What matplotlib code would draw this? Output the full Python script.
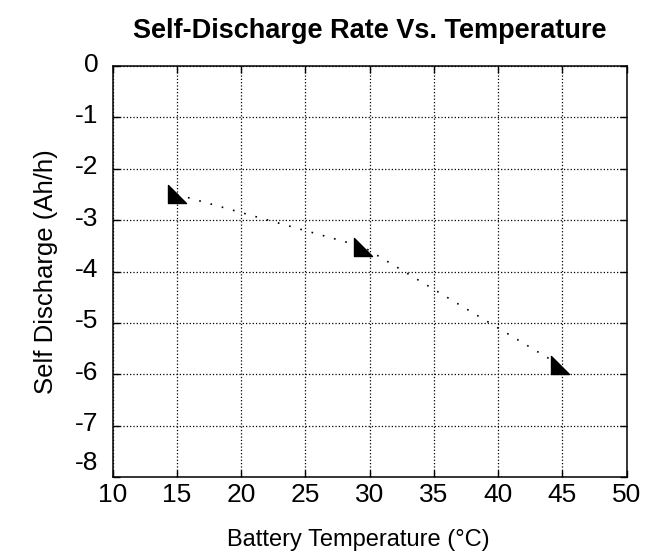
import matplotlib
matplotlib.use("Agg")
import matplotlib.pyplot as plt
from matplotlib.path import Path
from matplotlib.transforms import ScaledTranslation

# Data
temperature = [15, 29.5, 44.8]
self_discharge = [-2.5, -3.52, -5.82]
x_ticks = [10, 15, 20, 25, 30, 35, 40, 45, 50]
y_ticks = [0, -1, -2, -3, -4, -5, -6, -7, -8]

plt.rcParams['font.family'] = ['Liberation Sans', 'DejaVu Sans']

fig = plt.figure(figsize=(6.5, 5.51), dpi=100)
ax = fig.add_axes([112.5/650, 1-477/551, (626.5-112.5)/650, (477-66)/551])

tri = Path([(-1, 1), (-1, -1), (1, -1), (-1, 1)],
           [Path.MOVETO, Path.LINETO, Path.LINETO, Path.CLOSEPOLY])

ax.plot(temperature, self_discharge, color='black', lw=1.2,
        linestyle=(0, (1, 6)), marker=tri, markersize=13.5,
        markerfacecolor='black', markeredgecolor='black', zorder=3)

ax.set_xlim(10, 50)
ax.set_ylim(-8, 0)
ax.set_xticks(x_ticks)
ax.set_yticks(y_ticks)
ax.set_xticklabels([str(v) for v in x_ticks])
ax.set_yticklabels([str(v) for v in y_ticks])

ax.grid(True, color='black', linestyle=':', linewidth=0.9)
ax.tick_params(direction='in', length=5, width=1, top=True, right=True,
               labelsize=19, colors='black')
ax.tick_params(axis='x', pad=4)
ax.tick_params(axis='y', pad=10)
for s in ax.spines.values():
    s.set_linewidth(1.1)
    s.set_color('black')

# shift y tick labels up slightly (last one more)
for lab, v in zip(ax.get_yticklabels(), y_ticks):
    dy = 17/100 if v == -8 else 4/100
    lab.set_transform(lab.get_transform() + ScaledTranslation(0, dy, fig.dpi_scale_trans))

ax.set_title('Self-Discharge Rate Vs. Temperature', fontsize=19.5,
             fontweight='bold', pad=20)
ax.set_xlabel('Battery Temperature (°C)', fontsize=17)
ax.xaxis.set_label_coords(0.478, -0.126)
ax.set_ylabel('Self Discharge (Ah/h)', fontsize=18.5, labelpad=12)

fig.savefig('out.png', dpi=100, facecolor='white')
